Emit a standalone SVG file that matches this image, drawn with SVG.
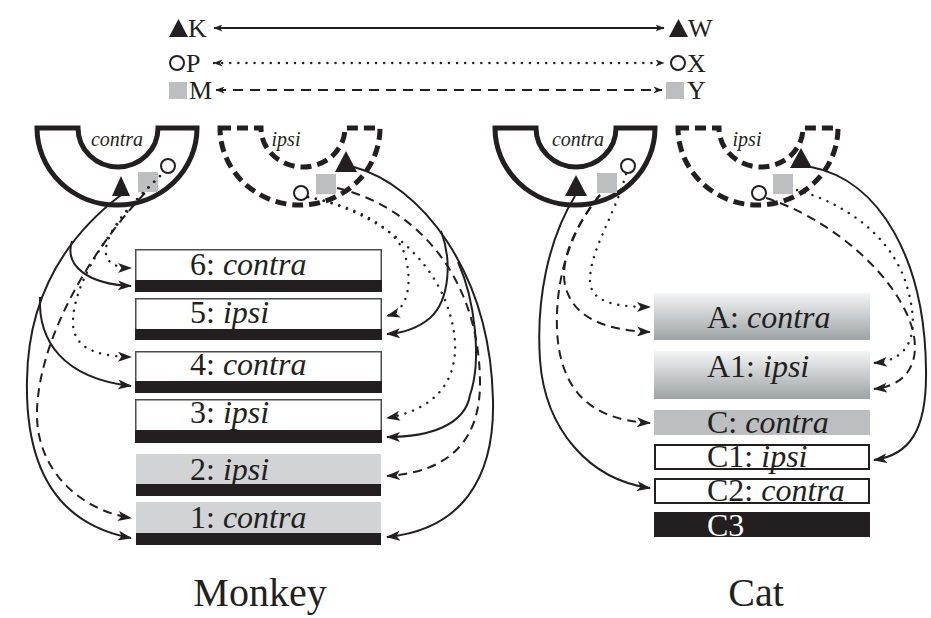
<svg xmlns="http://www.w3.org/2000/svg" width="931" height="618" viewBox="0 0 931 618">
<defs>
<style>
.t{font-family:"Liberation Serif","Times New Roman",serif;fill:#231f20}
.lt{font-size:32px}
.lg{font-size:26px}
.el{font-size:20px;font-style:italic;text-anchor:middle}
.i{font-style:italic}
.eye{fill:none;stroke:#231f20;stroke-width:5}
.eyed{stroke-dasharray:11,6}
.c{fill:none;stroke:#231f20;stroke-width:2}
.dsh{stroke-dasharray:9,6}
.dot{stroke-width:2.4;stroke-dasharray:0.1,8;stroke-linecap:round}
.arr{marker-end:url(#ah)}
.leg{marker-start:url(#lh);marker-end:url(#lh)}
.ldsh{stroke-dasharray:10,7}
.tri{fill:#231f20}
.sq{fill:#bcbec0}
.cir{fill:#fff;stroke:#231f20;stroke-width:2}
.band{fill:#231f20}
.wl{fill:#fff;stroke:#4d4d4f;stroke-width:1.5}
.gl{fill:#d1d3d4}
.cw{fill:#fff;stroke:#231f20;stroke-width:2}
</style>
<marker id="ah" viewBox="0 0 14 10" refX="13" refY="5" markerWidth="14" markerHeight="10" markerUnits="userSpaceOnUse" orient="auto"><path d="M0,0 L14,5 L0,10 L3.5,5 Z" fill="#231f20"/></marker>
<marker id="lh" viewBox="0 0 9 7" refX="8.5" refY="3.5" markerWidth="9" markerHeight="7" markerUnits="userSpaceOnUse" orient="auto-start-reverse"><path d="M0,0 L9,3.5 L0,7 L2.5,3.5 Z" fill="#231f20"/></marker>
<linearGradient id="gA" x1="0" y1="0" x2="0" y2="1"><stop offset="0" stop-color="#f4f5f5"/><stop offset="1" stop-color="#9ca2a5"/></linearGradient>
</defs>
<rect width="931" height="618" fill="#fff"/>

<g id="legend">
  <g id="legend-K"><polygon class="tri" points="169,37 178.5,19 188,37"/><text class="t lg" x="188" y="37">K</text></g>
  <g id="legend-W"><polygon class="tri" points="669,37 678.5,19 688,37"/><text class="t lg" x="688" y="37">W</text></g>
  <g id="legend-P"><circle class="cir" cx="177" cy="63" r="7"/><text class="t lg" x="186" y="72">P</text></g>
  <g id="legend-X"><circle class="cir" cx="678" cy="63" r="7"/><text class="t lg" x="687" y="72">X</text></g>
  <g id="legend-M"><rect class="sq" x="169" y="82" width="18" height="17"/><text class="t lg" x="189" y="99">M</text></g>
  <g id="legend-Y"><rect class="sq" x="666" y="82" width="18" height="17"/><text class="t lg" x="687" y="99">Y</text></g>
</g>

<g id="monkey-contra-eye">
  <path class="eye" d="M37,128 H78 A40,39 0 0 0 158,128 H197 A80,77 0 0 1 37,128 Z"/>
  <text class="t el" x="117" y="146">contra</text>
  <polygon class="tri" points="112,196 121,176 130,196"/>
  <rect class="sq" x="138" y="172" width="20" height="20"/>
  <circle class="cir" cx="168" cy="166" r="7"/>
</g>
<g id="monkey-ipsi-eye">
  <path class="eye eyed" d="M220,128 H261 A42,39 0 0 0 345,128 H380 A80,77 0 0 1 220,128 Z"/>
  <text class="t el" x="286" y="146">ipsi</text>
  <polygon class="tri" points="335,172 346,151 357,172"/>
  <rect class="sq" x="316" y="174" width="20" height="20"/>
  <circle class="cir" cx="301" cy="193" r="7"/>
</g>
<g id="cat-contra-eye">
  <path class="eye" d="M495,128 H536 A40,39 0 0 0 616,128 H655 A80,77 0 0 1 495,128 Z"/>
  <text class="t el" x="578" y="146">contra</text>
  <polygon class="tri" points="565,196 576,175 587,196"/>
  <rect class="sq" x="597" y="173" width="20" height="20"/>
  <circle class="cir" cx="628" cy="166" r="7"/>
</g>
<g id="cat-ipsi-eye">
  <path class="eye eyed" d="M678,128 H719 A42,39 0 0 0 803,128 H838 A80,77 0 0 1 678,128 Z"/>
  <text class="t el" x="747" y="146">ipsi</text>
  <polygon class="tri" points="790,168 801,148 812,168"/>
  <rect class="sq" x="773" y="174" width="20" height="20"/>
  <circle class="cir" cx="759" cy="193" r="7"/>
</g>

<g id="monkey-layer-6"><rect class="wl" x="135.75" y="249.75" width="245.5" height="31"/><rect class="band" x="135" y="280" width="247" height="12"/><text class="t lt" x="190" y="275">6: <tspan class="i">contra</tspan></text></g>
<g id="monkey-layer-5"><rect class="wl" x="135.75" y="298.75" width="245.5" height="31"/><rect class="band" x="135" y="329" width="247" height="11"/><text class="t lt" x="190" y="323">5: <tspan class="i">ipsi</tspan></text></g>
<g id="monkey-layer-4"><rect class="wl" x="135.75" y="351.75" width="245.5" height="30"/><rect class="band" x="135" y="381" width="247" height="12"/><text class="t lt" x="190" y="375">4: <tspan class="i">contra</tspan></text></g>
<g id="monkey-layer-3"><rect class="wl" x="135.75" y="399.75" width="245.5" height="31"/><rect class="band" x="135" y="430" width="247" height="13"/><text class="t lt" x="190" y="423">3: <tspan class="i">ipsi</tspan></text></g>
<g id="monkey-layer-2"><rect class="gl" x="136" y="454" width="245" height="30"/><rect class="band" x="136" y="484" width="245" height="12"/><text class="t lt" x="190" y="480">2: <tspan class="i">ipsi</tspan></text></g>
<g id="monkey-layer-1"><rect class="gl" x="136" y="502" width="245" height="31"/><rect class="band" x="136" y="533" width="245" height="12"/><text class="t lt" x="190" y="528">1: <tspan class="i">contra</tspan></text></g>

<g id="cat-layer-A"><rect fill="url(#gA)" x="654" y="293" width="216" height="47"/><text class="t lt" x="707" y="328">A: <tspan class="i">contra</tspan></text></g>
<g id="cat-layer-A1"><rect fill="url(#gA)" x="654" y="351" width="216" height="48"/><text class="t lt" x="707" y="377">A1: <tspan class="i">ipsi</tspan></text></g>
<g id="cat-layer-C"><rect fill="#bcbec0" x="654" y="410" width="216" height="25"/><text class="t lt" x="707" y="433">C: <tspan class="i">contra</tspan></text></g>
<g id="cat-layer-C1"><rect class="cw" x="655" y="445" width="214" height="24"/><text class="t lt" x="707" y="467">C1: <tspan class="i">ipsi</tspan></text></g>
<g id="cat-layer-C2"><rect class="cw" x="655" y="479" width="214" height="24"/><text class="t lt" x="707" y="501">C2: <tspan class="i">contra</tspan></text></g>
<g id="cat-layer-C3"><rect fill="#231f20" x="654" y="512" width="216" height="25"/><text class="t lt" x="707" y="536" style="fill:#fff">C3</text></g>

<g id="connectors">
  <path class="c leg" d="M214,28 H664"/>
  <path class="c leg dot" d="M214,63 H664"/>
  <path class="c leg ldsh" d="M216,90 H662"/>
  <path class="c arr" d="M121,195 C62,240 28,300 27,380 C25,475 62,525 131,538"/>
  <path class="c arr" d="M72,241 C64,266 88,284 131,286"/>
  <path class="c arr" d="M40,297 C38,340 62,378 131,386"/>
  <path class="c dsh arr" d="M145,193 C100,240 40,330 37,410 C35,470 80,510 131,518"/>
  <path class="c dot arr" d="M160,176 C135,200 110,225 106,248 C104,262 115,268 131,268"/>
  <path class="c dot arr" d="M160,176 C130,205 75,270 73,320 C72,345 90,356 131,357"/>
  <path class="c arr" d="M354,167 C420,185 490,270 493,400 C495,480 460,530 387,537"/>
  <path class="c arr" d="M441,231 C452,260 450,300 430,318 C418,328 405,333 387,334"/>
  <path class="c arr" d="M458,262 C475,300 482,360 470,395 C465,425 430,437 387,437"/>
  <path class="c dsh arr" d="M337,188 C410,205 478,270 480,380 C481,440 450,472 387,476"/>
  <path class="c dot arr" d="M308,197 C350,205 395,225 405,255 C412,280 410,310 387,316"/>
  <path class="c dot arr" d="M308,197 C360,208 420,240 445,300 C465,350 460,405 387,418"/>
  <path class="c arr" d="M575,196 C548,240 536,300 540,360 C545,430 590,480 650,488"/>
  <path class="c dsh arr" d="M600,195 C575,225 560,260 565,285 C572,315 600,330 650,332"/>
  <path class="c dsh arr" d="M600,195 C575,225 555,270 557,330 C560,390 590,420 650,423"/>
  <path class="c dot arr" d="M626,174 C615,215 590,250 590,280 C590,300 610,307 650,307"/>
  <path class="c arr" d="M811,167 C880,180 925,260 926,370 C927,430 910,455 874,460"/>
  <path class="c dsh arr" d="M766,198 C820,215 880,260 905,310 C925,350 915,385 874,389"/>
  <path class="c dot arr" d="M797,190 C850,205 895,240 908,290 C920,335 910,360 874,363"/>
</g>

<g id="titles">
  <text class="t" x="260" y="606" font-size="40" text-anchor="middle">Monkey</text>
  <text class="t" x="756" y="606" font-size="40" text-anchor="middle">Cat</text>
</g>
</svg>
